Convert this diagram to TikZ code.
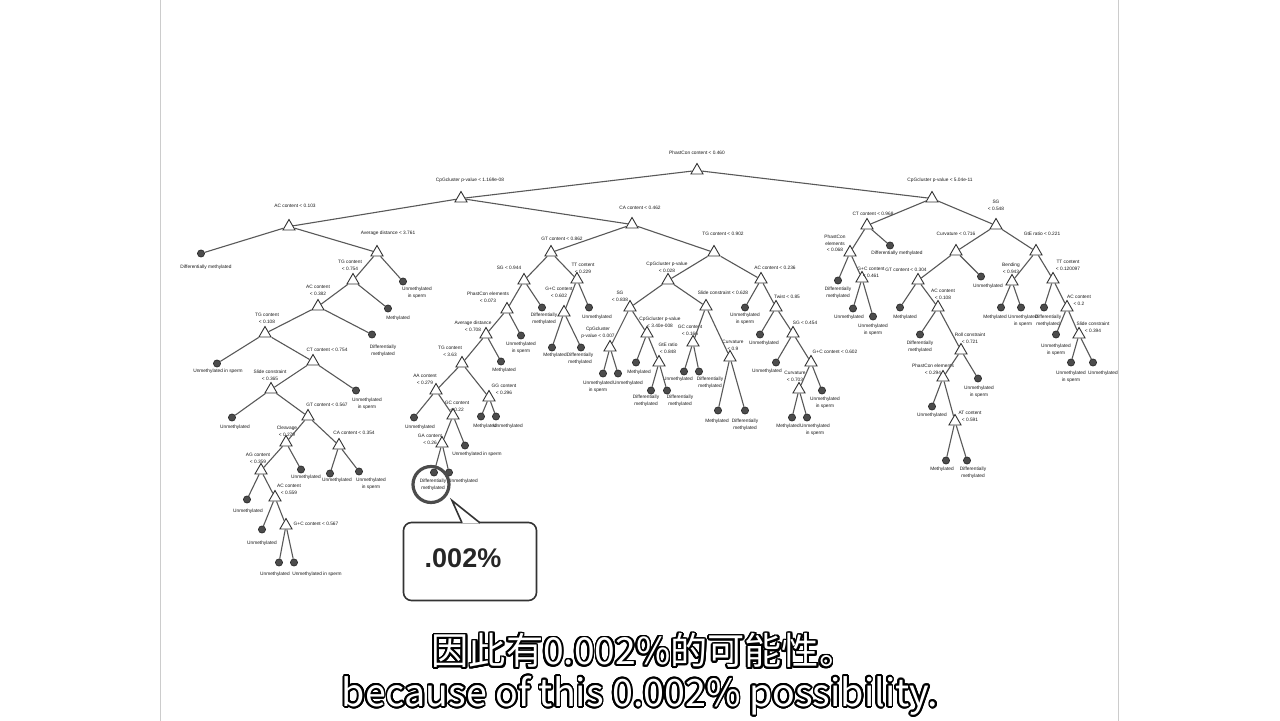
\documentclass[tikz,border=0pt]{standalone}
\usepackage{fontspec}
\setmainfont{Liberation Sans}
\newfontfamily\cjk{Noto Sans CJK SC}
\usepackage[copies]{contour}
\usetikzlibrary{shapes.geometric,backgrounds,calc}
\contourlength{0.9pt}
\contournumber{24}
\newcommand{\splitnode}[4]{%
  \node[split] (#1) at (#2) {};
  \node[rule] (#1-t) at (#3) {#4};
}
\newcommand{\leafnode}[4]{%
  \node[leaf] (#1) at (#2) {};
  \node[rule] (#1-t) at (#3) {#4};
}

\begin{document}
\begin{tikzpicture}[x=0.5pt,y=-0.5pt,
  split/.style={regular polygon,regular polygon sides=3,draw=black!80,fill=white,line width=0.45pt,minimum size=7pt,inner sep=0pt},
  leaf/.style={circle,draw=black!85,fill=black!70,line width=0.3pt,minimum size=3.6pt,inner sep=0pt},
  rule/.style={font=\fontsize{2.4}{3.3}\selectfont,text=black!90,align=center,inner sep=0pt},
  branch/.style={draw=black!65,line width=0.55pt},
  ring/.style={circle,draw=black!70,line width=1.6pt,minimum size=18pt,inner sep=0pt},
  calloutbox/.style={draw=black!80,line width=0.8pt,fill=white,rounded corners=4pt,minimum width=66.5pt,minimum height=39pt,inner sep=0pt},
  subtitle/.style={text=white,inner sep=0pt}]
  \begin{scope}[on background layer]
    \fill[white] (0,0) rectangle (1280,720);
    \draw[black!20,line width=0.5pt] (160,0) -- (160,720);
    \draw[black!20,line width=0.5pt] (1118,0) -- (1118,720);
  \end{scope}

  \splitnode{s1}{697,170}{697,152}{PhastCon content < 0.460}
  \splitnode{s2}{461,198}{470,180}{CpGcluster p-value < 1.169e-08}
  \splitnode{s3}{932,198}{940,180}{CpGcluster p-value < 5.04e-11}
  \splitnode{s4}{289,226}{295,205}{AC content < 0.103}
  \splitnode{s5}{632,224}{640,207}{CA content < 0.462}
  \splitnode{s6}{377,252}{388,233}{Average distance < 3.761}
  \splitnode{s7}{353,280}{350,265}{TG content\\< 0.754}
  \splitnode{s8}{318,306}{318,290}{AC content\\< 0.382}
  \splitnode{s9}{265,333}{267,318}{TG content\\< 0.108}
  \splitnode{s10}{313,361}{327,349}{CT content < 0.754}
  \splitnode{s11}{271,389}{270,375}{Slide constraint\\< 0.365}
  \splitnode{s12}{308,416}{327,404}{GT content < 0.567}
  \splitnode{s13}{286,442}{287,431}{Cleavage\\< 0.279}
  \splitnode{s14}{339,445}{354,432}{CA content < 0.354}
  \splitnode{s15}{261,470}{258,458}{AG content\\< 0.359}
  \splitnode{s16}{275,497}{289,489}{AC content\\< 0.559}
  \splitnode{s17}{286,525}{316,523}{G+C content < 0.567}
  \splitnode{s18}{551,252}{562,238}{GT content < 0.862}
  \splitnode{s19}{714,252}{723,233}{TG content < 0.902}
  \splitnode{s20}{524,280}{509,267}{SG < 0.944}
  \splitnode{s21}{577,279}{583,268}{TT content\\< 0.229}
  \splitnode{s22}{507,309}{488,297}{PhastCon elements\\< 0.073}
  \splitnode{s23}{564,312}{559,292}{G+C content\\< 0.602}
  \splitnode{s24}{486,334}{473,326}{Average distance\\< 0.708}
  \splitnode{s25}{462,363}{450,351}{TG content\\< 3.63}
  \splitnode{s26}{436,390}{425,379}{AA content\\< 0.279}
  \splitnode{s27}{489,397}{504,389}{GG content\\< 0.296}
  \splitnode{s28}{453,415}{457,406}{GC content\\< 0.22}
  \splitnode{s29}{442,443}{430,439}{GA content\\< 0.26}
  \splitnode{s30}{668,280}{667,267}{CpGcluster p-value\\< 0.028}
  \splitnode{s31}{761,279}{775,267}{AC content < 0.236}
  \splitnode{s32}{630,307}{620,296}{SG\\< 0.838}
  \splitnode{s33}{706,306}{723,292}{Slide constraint < 0.628}
  \splitnode{s34}{610,347}{598,332}{CpGcluster\\p-value < 0.007}
  \splitnode{s35}{647,333}{660,322}{CpGcluster p-value\\< 3.40e-008}
  \splitnode{s36}{659,362}{668,348}{GtE ratio\\< 0.848}
  \splitnode{s37}{693,342}{690,330}{GC content\\< 0.166}
  \splitnode{s38}{730,357}{733,345}{Curvature\\< 0.9}
  \splitnode{s39}{776,307}{787,296}{Twist < 0.85}
  \splitnode{s40}{793,333}{805,322}{SG < 0.454}
  \splitnode{s41}{811,362}{835,351}{G+C content < 0.602}
  \splitnode{s42}{799,389}{795,376}{Curvature\\< 0.703}
  \splitnode{s43}{867,225}{873,213}{CT content < 0.968}
  \splitnode{s44}{996,225}{996,205}{SG\\< 0.548}
  \splitnode{s45}{850,252}{835,243}{PhastCon\\elements\\< 0.068}
  \splitnode{s46}{862,278}{871,272}{G+C content\\< 0.461}
  \splitnode{s47}{956,251}{956,233}{Curvature < 0.716}
  \splitnode{s48}{1036,251}{1042,233}{GtE ratio < 0.221}
  \splitnode{s49}{918,280}{906,269}{GT content < 0.304}
  \splitnode{s50}{938,307}{943,294}{AC content\\< 0.108}
  \splitnode{s51}{961,350}{970,338}{Roll constraint\\< 0.721}
  \splitnode{s52}{943,377}{933,369}{PhastCon elements\\< 0.294}
  \splitnode{s53}{955,421}{970,416}{AT content\\< 0.591}
  \splitnode{s54}{1012,281}{1011,268}{Bending\\< 0.943}
  \splitnode{s55}{1053,279}{1068,265}{TT content\\< 0.120097}
  \splitnode{s56}{1067,307}{1079,300}{AC content\\< 0.2}
  \splitnode{s57}{1079,334}{1093,327}{Slide constraint\\< 0.394}

  \leafnode{f1}{201,253}{206,267}{Differentially methylated}
  \leafnode{f2}{403,281}{417,292}{Unmethylated\\in sperm}
  \leafnode{f3}{388,308}{398,318}{Methylated}
  \leafnode{f4}{372,334}{383,350}{Differentially\\methylated}
  \leafnode{f5}{217,363}{218,371}{Unmethylated in sperm}
  \leafnode{f6}{356,390}{367,403}{Unmethylated\\in sperm}
  \leafnode{f7}{232,417}{235,427}{Unmethylated}
  \leafnode{f8}{301,469}{306,477}{Unmethylated}
  \leafnode{f9}{330,473}{337,480}{Unmethylated}
  \leafnode{f10}{359,471}{371,483}{Unmethylated\\in sperm}
  \leafnode{f11}{247,499}{248,511}{Unmethylated}
  \leafnode{f12}{262,529}{262,543}{Unmethylated}
  \leafnode{f13}{279,562}{275,574}{Unmethylated}
  \leafnode{f14}{294,562}{317,574}{Unmethylated in sperm}
  \leafnode{f15}{542,307}{544,318}{Differentially\\methylated}
  \leafnode{f16}{589,307}{597,317}{Unmethylated}
  \leafnode{f17}{552,347}{555,355}{Methylated}
  \leafnode{f18}{581,347}{580,358}{Differentially\\methylated}
  \leafnode{f19}{521,335}{521,347}{Unmethylated\\in sperm}
  \leafnode{f20}{501,361}{504,370}{Methylated}
  \leafnode{f21}{414,417}{420,427}{Unmethylated}
  \leafnode{f22}{481,416}{485,426}{Methylated}
  \leafnode{f23}{496,416}{508,426}{Unmethylated}
  \leafnode{f24}{465,445}{477,454}{Unmethylated in sperm}
  \leafnode{f25}{434,472}{433,484}{Differentially\\methylated}
  \leafnode{f26}{449,472}{463,481}{Unmethylated}
  \leafnode{f27}{603,373}{598,386}{Unmethylated\\in sperm}
  \leafnode{f28}{618,373}{628,383}{Unmethylated}
  \leafnode{f29}{636,362}{639,372}{Methylated}
  \leafnode{f30}{651,390}{646,400}{Differentially\\methylated}
  \leafnode{f31}{667,390}{680,400}{Differentially\\methylated}
  \leafnode{f32}{684,371}{678,379}{Unmethylated}
  \leafnode{f33}{699,371}{710,382}{Differentially\\methylated}
  \leafnode{f34}{718,410}{717,421}{Methylated}
  \leafnode{f35}{745,410}{745,424}{Differentially\\methylated}
  \leafnode{f36}{745,307}{745,318}{Unmethylated\\in sperm}
  \leafnode{f37}{760,334}{764,343}{Unmethylated}
  \leafnode{f38}{776,362}{767,371}{Unmethylated}
  \leafnode{f39}{822,390}{825,402}{Unmethylated\\in sperm}
  \leafnode{f40}{792,417}{788,426}{Methylated}
  \leafnode{f41}{807,417}{815,429}{Unmethylated\\in sperm}
  \leafnode{f42}{890,245}{897,253}{Differentially methylated}
  \leafnode{f43}{838,280}{838,292}{Differentially\\methylated}
  \leafnode{f44}{853,308}{849,317}{Unmethylated}
  \leafnode{f45}{873,316}{873,329}{Unmethylated\\in sperm}
  \leafnode{f46}{981,276}{988,286}{Unmethylated}
  \leafnode{f47}{900,307}{905,317}{Methylated}
  \leafnode{f48}{920,334}{920,346}{Differentially\\methylated}
  \leafnode{f49}{978,378}{979,391}{Unmethylated\\in sperm}
  \leafnode{f50}{932,406}{932,415}{Unmethylated}
  \leafnode{f51}{946,460}{942,469}{Methylated}
  \leafnode{f52}{967,460}{973,472}{Differentially\\methylated}
  \leafnode{f53}{1001,307}{995,317}{Methylated}
  \leafnode{f54}{1021,307}{1023,320}{Unmethylated\\in sperm}
  \leafnode{f55}{1044,307}{1048,320}{Differentially\\methylated}
  \leafnode{f56}{1056,334}{1056,349}{Unmethylated\\in sperm}
  \leafnode{f57}{1071,362}{1071,376}{Unmethylated\\in sperm}
  \leafnode{f58}{1093,362}{1103,373}{Unmethylated}

  \foreach \a/\b in {s1/s2,s1/s3,s2/s4,s2/s5,s4/f1,s4/s6,s6/s7,s6/f2,
    s7/s8,s7/f3,s8/s9,s8/f4,s9/f5,s9/s10,s10/s11,s10/f6,s11/f7,s11/s12,
    s12/s13,s12/s14,s13/s15,s13/f8,s14/f9,s14/f10,s15/f11,s15/s16,
    s16/f12,s16/s17,s17/f13,s17/f14,s5/s18,s5/s19,s18/s20,s18/s21,
    s20/s22,s20/f15,s21/s23,s21/f16,s23/f17,s23/f18,s22/s24,s22/f19,
    s24/s25,s24/f20,s25/s26,s25/s27,s26/f21,s26/s28,s27/f22,s27/f23,
    s28/s29,s28/f24,s29/f25,s29/f26,s19/s30,s19/s31,s30/s32,s30/s33,
    s32/s34,s32/s35,s34/f27,s34/f28,s35/f29,s35/s36,s36/f30,s36/f31,
    s33/s37,s33/s38,s37/f32,s37/f33,s38/f34,s38/f35,s31/f36,s31/s39,
    s39/f37,s39/s40,s40/f38,s40/s41,s41/s42,s41/f39,s42/f40,s42/f41,
    s3/s43,s3/s44,s43/s45,s43/f42,s45/f43,s45/s46,s46/f44,s46/f45,
    s44/s47,s44/s48,s47/s49,s47/f46,s49/f47,s49/s50,s50/f48,s50/s51,
    s51/s52,s51/f49,s52/f50,s52/s53,s53/f51,s53/f52,s48/s54,s48/s55,
    s54/f53,s54/f54,s55/f55,s55/s56,s56/f56,s56/s57,s57/f57,s57/f58}
    \draw[branch] (\a) -- (\b);

  \node[ring] (mark) at (431,484) {};
  \node[calloutbox] (box) at (470,561) {};
  \coordinate (tip) at (452,500);
  \draw[draw=black!80,line width=0.8pt,fill=white]
    ([xshift=-4pt,yshift=-0.6pt]box.north) -- (tip) -- ([xshift=5pt,yshift=-0.6pt]box.north);
  \node[font=\bfseries\fontsize{13.5}{15}\selectfont,text=black!85] (pct) at (463,558) {.002\%};

  \node[subtitle,font=\cjk\fontsize{18.6}{20}\selectfont] (zh) at (644,651) {\contour{black}{因此有0.002\%的可能性。}};
  \node[subtitle,font=\cjk\fontsize{18.8}{20}\selectfont] (en) at (640,696) {\contour{black}{because of this 0.002\% possibility.}};
\end{tikzpicture}
\end{document}
